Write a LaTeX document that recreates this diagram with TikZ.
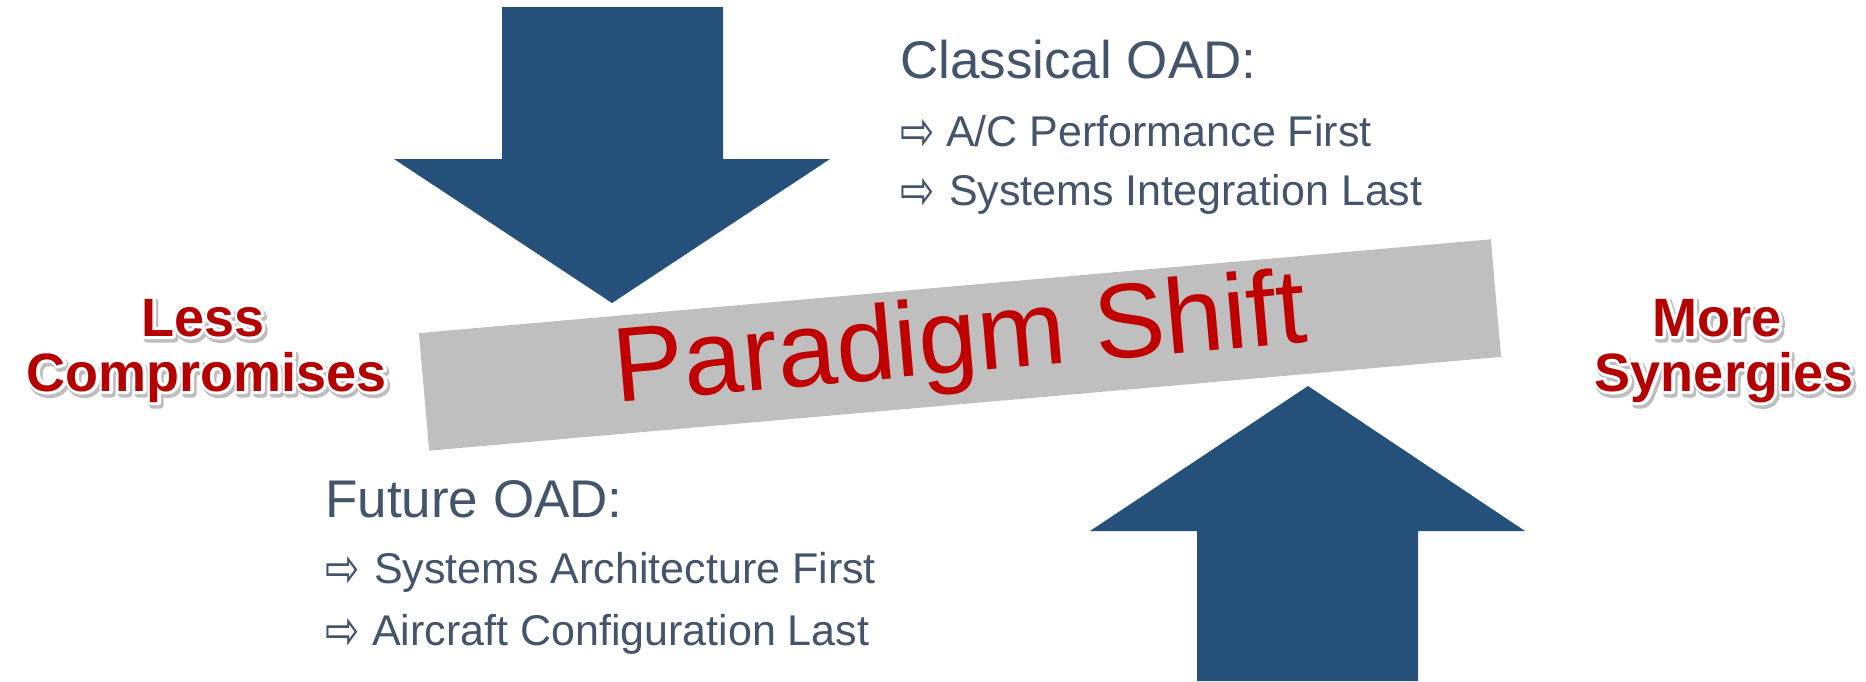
\documentclass[tikz,border=0pt]{standalone}
\usepackage{fontspec}
\setmainfont{Liberation Sans}
\newfontfamily\arrowfont{DejaVu Sans}
\usetikzlibrary{calc}
\definecolor{arrowblue}{HTML}{24507A}
\definecolor{txtgray}{HTML}{44546A}
\definecolor{bannergray}{HTML}{BFBFBF}
\definecolor{deepred}{HTML}{C00000}
\definecolor{labelred}{HTML}{B40000}
\definecolor{shadegray}{HTML}{BEBEBE}
\newcommand\bulletarrow[1]{\makebox[#1][l]{\raisebox{-4pt}{\scalebox{1}[1.35]{\arrowfont\fontsize{41}{41}\selectfont ⇨}}}}
\newcommand\strokedtext[3]{\special{pdf:literal direct #1 Tr #2 w 1 j 1 J}#3\special{pdf:literal direct 0 Tr 0.4 w 0 j 0 J}}
\tikzset{
  headtxt/.style={font=\fontsize{53}{60}\selectfont, text=txtgray, anchor=base west, inner sep=0pt},
  itemtxt/.style={font=\fontsize{43}{50}\selectfont, text=txtgray, anchor=base west, inner sep=0pt},
  boldtxt/.style={font=\bfseries\fontsize{54}{58}\selectfont, anchor=base, inner sep=0pt},
  bigarrow/.style={fill=arrowblue},
  banner/.style={fill=bannergray, rotate=5, minimum width=1076pt, minimum height=118pt, inner sep=0pt, text=deepred, font=\fontsize{106}{110}\selectfont},
}
\newcommand\fancylabel[3]{%
  \node[boldtxt, text=shadegray] at ($(#2)+(2,3)$) {\strokedtext{2}{7}{#3}};
  \node[boldtxt, text=white] at (#2) {\strokedtext{1}{6}{#3}};
  \node[boldtxt, text=labelred] (#1) at (#2) {#3};
}
\begin{document}
\begin{tikzpicture}[x=1pt,y=-1pt]
\fill[white] (0,0) rectangle (1866,681);
\useasboundingbox (0,0) rectangle (1866,681);
% big arrows
\fill[bigarrow] (502,7) -- (723,7) -- (723,159) -- (830,159) -- (612,303) -- (394,159) -- (502,159) -- cycle;
\fill[bigarrow] (1197,681) -- (1197,531) -- (1090,531) -- (1308,386) -- (1525,531) -- (1418,531) -- (1418,681) -- cycle;
% banner
\node[banner] (shift) at (960,345) {Paradigm Shift};
% classical block
\node[headtxt] (clhead) at (900,78) {Classical OAD:};
\node[itemtxt] (clone) at (900,146) {\bulletarrow{46pt}A/C Performance First};
\node[itemtxt] (cltwo) at (900,205) {\bulletarrow{49pt}Systems Integration Last};
% future block
\node[headtxt] (fuhead) at (325,517) {Future OAD:};
\node[itemtxt] (fuone) at (325,583) {\bulletarrow{49pt}Systems Architecture First};
\node[itemtxt] (futwo) at (325,645) {\bulletarrow{47pt}Aircraft Configuration Last};
% side labels
\fancylabel{less}{203,336}{Less}
\fancylabel{comp}{207,391}{Compromises}
\fancylabel{more}{1717,336}{More}
\fancylabel{syn}{1724,391}{Synergies}
\end{tikzpicture}
\end{document}
